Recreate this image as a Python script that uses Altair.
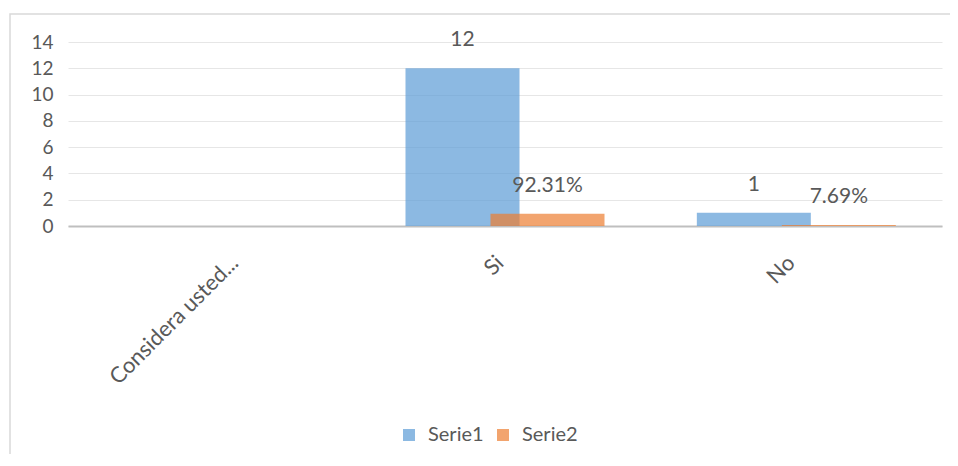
import altair as alt
import pandas as pd

categories = ["Considera usted...", "Si", "No"]
serie1 = [None, 12, 1]
serie2 = [None, 0.9231, 0.0769]
series_names = ["Serie1", "Serie2"]
colors = ["#5B9BD5", "#ED7D31"]

rows = []
for c, v1, v2 in zip(categories, serie1, serie2):
    rows.append({"cat": c, "series": "Serie1", "value": v1,
                 "label": "" if v1 is None else f"{v1:g}"})
    rows.append({"cat": c, "series": "Serie2", "value": v2,
                 "label": "" if v2 is None else f"{v2*100:.2f}%"})
df = pd.DataFrame(rows)

FONT = "Lato"
TXT = "#595959"

x = alt.X("cat:N", sort=categories,
          scale=alt.Scale(domain=categories, paddingInner=0, paddingOuter=0),
          axis=alt.Axis(title=None, labelAngle=-45, labelAlign="right",
                        labelBaseline="alphabetic", labelPadding=38, ticks=False,
                        labelOffset={"condition": {"test": f"datum.value == '{categories[0]}'",
                                                   "value": 26},
                                     "value": 0},
                        domainColor="#bfbfbf", domainWidth=2,
                        labelFontSize=22, labelColor=TXT, labelFont=FONT))
y = alt.Y("value:Q", scale=alt.Scale(domain=[0, 14], nice=False),
          axis=alt.Axis(title=None, values=list(range(0, 15, 2)), ticks=False,
                        domain=False, gridColor="#e6e6e6", gridWidth=1,
                        labelFontSize=19, labelColor=TXT, labelFont=FONT,
                        labelPadding=15))
color = alt.Color("series:N",
                  scale=alt.Scale(domain=series_names, range=colors),
                  legend=alt.Legend(title=None, orient="none", direction="horizontal",
                                    legendX=331, legendY=383,
                                    symbolType="square", symbolSize=144,
                                    symbolOpacity=0.7, symbolStrokeWidth=0,
                                    labelFontSize=20, labelColor=TXT, labelFont=FONT,
                                    columnPadding=9, labelOffset=9))

base = alt.Chart(df).transform_filter("datum.value != null")

border = alt.Chart(pd.DataFrame({"b": [0]})).mark_rect(
    fill="transparent", stroke="#d9d9d9", strokeWidth=1.5
).encode(x=alt.value(-58), x2=alt.value(960), y=alt.value(-28), y2=alt.value(520))

layers = [border]
for name, off in zip(series_names, [-42.5, 42.5]):
    b = base.transform_filter(f"datum.series == '{name}'")
    layers.append(b.mark_bar(size=114, xOffset=off, opacity=0.7).encode(x=x, y=y, color=color))
    layers.append(b.mark_text(xOffset=off, dy=-28, baseline="middle", fontSize=21,
                              font=FONT, color=TXT).encode(x=x, y=y, text="label:N"))

chart = alt.layer(*layers).properties(
    width=874, height=184,
    background="white",
    autosize=alt.AutoSizeParams(type="none"),
    padding={"left": 60, "top": 34, "right": 8, "bottom": 228},
).configure_view(stroke=None)

chart.save("out.html", embed_options={"renderer": "svg", "actions": False})
